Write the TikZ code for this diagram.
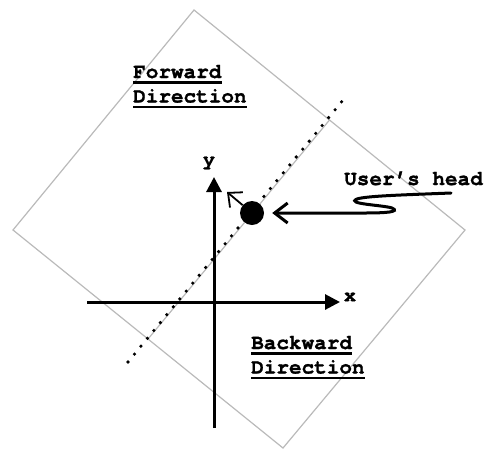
\documentclass[tikz,border=0pt]{standalone}
\usepackage{fontspec}
\setmainfont{TeX Gyre Cursor}[BoldFeatures={FakeBold=1.2}]
\usetikzlibrary{arrows.meta,calc}

\begin{document}
\begin{tikzpicture}[x=1pt,y=-1pt,
  frame/.style={draw=black!27,line width=1.2pt},
  axis/.style={line width=3pt,-{Triangle[length=15pt,width=15pt]}},
  lbl/.style={font=\fontsize{21}{24}\selectfont\bfseries,inner sep=0pt},
  axlbl/.style={font=\fontsize{20}{22}\selectfont\bfseries,inner sep=0pt},
  uline/.style={line width=2.4pt},
  dotline/.style={line width=3.6pt,line cap=round,dash pattern=on 0pt off 10.2pt},
  pointer/.style={line width=3pt,line cap=round,-{Straight Barb[length=13pt,width=20pt,line width=3pt]}},
  facing/.style={line width=1.8pt,-{Straight Barb[length=11pt,width=20pt,line width=1.8pt]}}]
\useasboundingbox (0,0) rectangle (486,450);

% rotated region and the boundary through its middle
\coordinate (rt) at (194,10);
\coordinate (rr) at (465,230);
\coordinate (rb) at (283,448);
\coordinate (rl) at (13,230);
\draw[frame] (rt) -- (rr) -- (rb) -- (rl) -- cycle;
\draw[frame] ($(rl)!0.5!(rb)$) -- ($(rt)!0.5!(rr)$);

% dotted direction line
\coordinate (d1) at (128,362);
\coordinate (d2) at (348,94);
\draw[dotline] (d1) -- (d2);

% axes
\coordinate (xs) at (87,302);
\coordinate (xe) at (340,302);
\coordinate (ys) at (214,428);
\coordinate (ye) at (214,177);
\draw[axis] (xs) -- (xe);
\draw[axis] (ys) -- (ye);
\node[axlbl] (xl) at (350,297) {x};
\node[axlbl] (yl) at (209,163) {y};

% user's head and facing arrow
\node[circle,fill=black,inner sep=0pt,minimum size=24pt] (head) at (252,213) {};
\coordinate (face) at (227,192);
\draw[facing] (head) -- (face);

% pointer from the label to the head
\node[lbl,anchor=base west] (ulbl) at (344,185) {User’s head};
\coordinate (sq) at (451,193);
\draw[pointer,shorten >=8pt] (sq) .. controls (400,195) and (366,196) .. (357,199)
  .. controls (345,204) and (383,205) .. (392,208)
  .. controls (401,212) and (385,213) .. (365,213) -- (head);

% region captions
\node[lbl,anchor=base west] (fw1) at (133,78) {Forward};
\node[lbl,anchor=base west] (fw2) at (133,102.5) {Direction};
\node[lbl,anchor=base west] (bw1) at (251,349) {Backward};
\node[lbl,anchor=base west] (bw2) at (251,373.5) {Direction};
\foreach \n in {fw1,fw2,bw1,bw2}
  \draw[uline] ([yshift=-4.5pt]\n.base west) -- ([yshift=-4.5pt]\n.base east);
\end{tikzpicture}
\end{document}
